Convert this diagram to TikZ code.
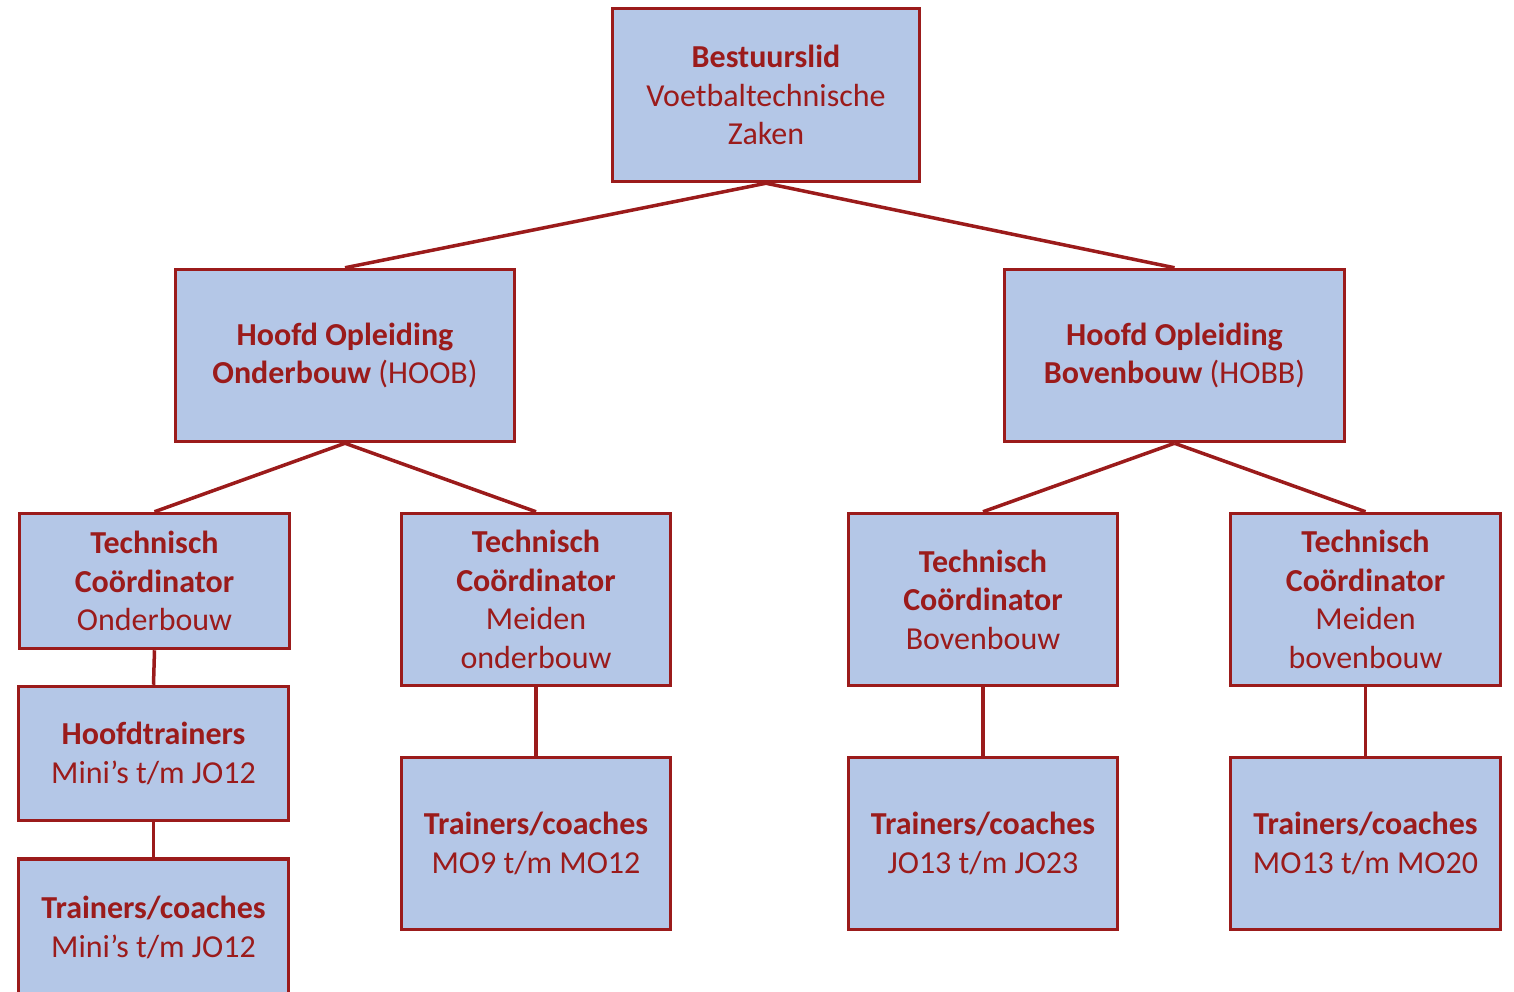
\documentclass[tikz,border=0pt]{standalone}
\usepackage{fontspec}
\setmainfont{Carlito}
\definecolor{dred}{RGB}{155,27,27}
\definecolor{lblue}{RGB}{180,199,231}
\begin{document}
\begin{tikzpicture}[x=1pt,y=-1pt,
 box/.style={draw=dred, fill=lblue, line width=3.5pt, text=dred, align=center,
   font=\fontsize{32}{38.5}\selectfont, inner sep=0pt},
 link/.style={draw=dred, line width=3.5pt}]
\useasboundingbox (0,0) rectangle (1514,991);
\clip (0,0) rectangle (1514,991);
\node[box, minimum width=307, minimum height=173] (top) at (766,95) {\textbf{Bestuurslid}\\Voetbaltechnische\\Zaken};
\node[box, minimum width=339, minimum height=172] (hoob) at (345,355.5) {\textbf{Hoofd Opleiding}\\\textbf{Onderbouw} (HOOB)};
\node[box, minimum width=340, minimum height=172] (hobb) at (1174.5,355.5) {\textbf{Hoofd Opleiding}\\\textbf{Bovenbouw} (HOBB)};
\node[box, minimum width=270, minimum height=135] (tco) at (154.5,581) {\textbf{Technisch}\\\textbf{Coördinator}\\Onderbouw};
\node[box, minimum width=269, minimum height=172] (tcmo) at (536,599.5) {\textbf{Technisch}\\\textbf{Coördinator}\\Meiden\\onderbouw};
\node[box, minimum width=269, minimum height=172] (tcb) at (983,599.5) {\textbf{Technisch}\\\textbf{Coördinator}\\Bovenbouw};
\node[box, minimum width=270, minimum height=172] (tcmb) at (1365.5,599.5) {\textbf{Technisch}\\\textbf{Coördinator}\\Meiden\\bovenbouw};
\node[box, minimum width=270, minimum height=134] (ht) at (153.5,753.5) {\textbf{Hoofdtrainers}\\Mini’s t/m JO12};
\node[box, minimum width=270, minimum height=137] (tmini) at (153.5,927.5) {\textbf{Trainers/coaches}\\Mini’s t/m JO12};
\node[box, minimum width=269, minimum height=172] (tmo9) at (536,843.5) {\textbf{Trainers/coaches}\\MO9 t/m MO12};
\node[box, minimum width=269, minimum height=172] (tjo13) at (983,843.5) {\textbf{Trainers/coaches}\\JO13 t/m JO23};
\node[box, minimum width=270, minimum height=172] (tmo13) at (1365.5,843.5) {\textbf{Trainers/coaches}\\MO13 t/m MO20};
\draw[link] (top.south) -- (hoob.north);
\draw[link] (top.south) -- (hobb.north);
\draw[link] (hoob.south) -- (tco.north);
\draw[link] (hoob.south) -- (tcmo.north);
\draw[link] (hobb.south) -- (tcb.north);
\draw[link] (hobb.south) -- (tcmb.north);
\draw[link] (tco.south) -- (ht.north);
\draw[link] (ht.south) -- (tmini.north);
\draw[link] (tcmo.south) -- (tmo9.north);
\draw[link] (tcb.south) -- (tjo13.north);
\draw[link] (tcmb.south) -- (tmo13.north);
\end{tikzpicture}
\end{document}
